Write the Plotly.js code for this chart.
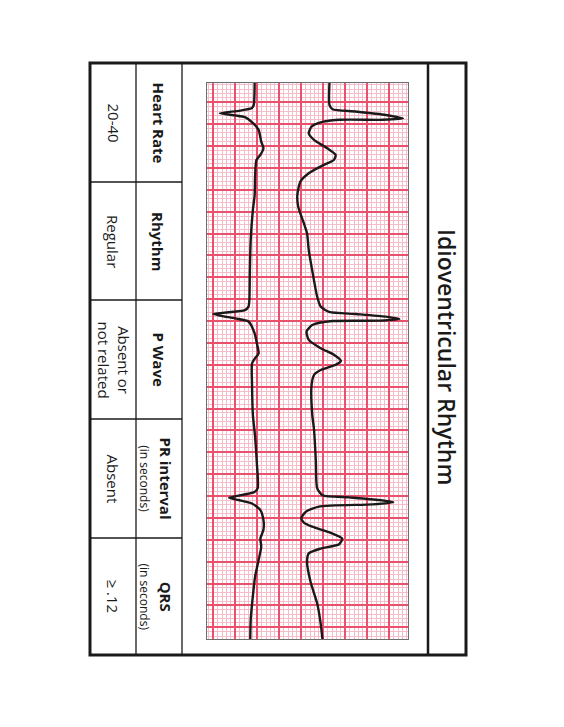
<!DOCTYPE html>
<html>
<head>
<meta charset="utf-8">
<script src="https://cdn.plot.ly/plotly-3.0.1.min.js"></script>
<style>html,body{margin:0;padding:0;background:#fff;}#chart{width:564px;height:727px;}</style>
</head>
<body>
<div id="chart"></div>
<script>
// ---- ECG strip data (mm of paper: amplitude position across strip, time down strip) ----
const leadATime = [-4.4, 0.6, 1.3, 1.9, 2.5, 3.0, 3.4, 4.8, 6.3, 9.0, 10.5, 12.0, 13.2, 17.0, 21.2, 24.6, 31.5, 39.1, 45.2, 46.7, 47.5, 48.4, 49.4, 50.1, 52.8, 55.1, 57.4, 58.5, 59.7, 64.2, 71.5, 76.4, 82.5, 88.2, 89.1, 90.4, 90.9, 91.7, 93.2, 95.5, 97.7, 99.7, 101.6, 104.6, 108.4, 113.8, 118.3, 122.7];
const leadAAmp  = [9.4, 9.2, 8.8, 6.1, 1.5, 5.0, 7.2, 9.1, 10.3, 10.9, 11.4, 10.7, 9.8, 9.5, 9.4, 9.0, 8.5, 8.3, 8.2, 8.0, 7.2, 0.0, 5.0, 8.0, 9.4, 9.9, 10.3, 9.5, 8.8, 8.8, 9.0, 9.5, 9.9, 10.1, 9.3, 3.6, 5.7, 8.8, 10.7, 11.4, 11.4, 10.7, 10.9, 10.3, 9.5, 8.9, 8.5, 8.4];

const leadBTime = [-4.4, 0.6, 1.6, 2.1, 2.9, 3.7, 4.0, 4.0, 4.7, 5.6, 7.1, 8.6, 10.5, 12.0, 13.2, 14.3, 16.2, 18.1, 21.2, 23.9, 27.7, 29.9, 33.8, 39.1, 44.4, 46.7, 47.9, 48.4, 49.0, 49.5, 49.9, 50.0, 50.9, 52.4, 54.3, 56.2, 57.7, 59.1, 60.0, 61.2, 62.3, 65.0, 71.5, 74.9, 81.8, 88.2, 89.8, 90.3, 90.9, 91.4, 91.9, 92.4, 93.6, 95.1, 96.2, 97.0, 98.4, 99.7, 101.0, 102.0, 103.1, 105.0, 109.6, 114.5, 119.1, 122.7];
const leadBAmp  = [26.4, 26.4, 27.1, 32.3, 39.2, 43.1, 38.5, 28.6, 24.0, 22.3, 21.7, 22.9, 25.9, 27.8, 27.4, 25.1, 21.7, 19.8, 19.1, 19.3, 20.6, 21.3, 21.7, 22.6, 23.6, 24.4, 26.3, 32.4, 39.2, 42.3, 37.7, 27.1, 22.5, 21.2, 21.7, 24.4, 27.4, 29.0, 27.8, 24.4, 22.9, 22.3, 22.5, 22.9, 23.3, 23.6, 24.8, 30.9, 37.7, 40.9, 36.2, 24.0, 21.0, 20.0, 20.7, 22.5, 26.7, 29.3, 28.6, 24.4, 21.7, 21.3, 22.1, 23.6, 24.4, 24.8];

// ---- Table text ----
const title = 'Idioventricular Rhythm';
const headers = ['Heart Rate', 'Rhythm', 'P Wave', 'PR interval', 'QRS'];
const subHeaders = ['', '', '', '(in seconds)', '(in seconds)'];
const values = ['20-40', 'Regular', 'Absent or<br>not related', 'Absent', '\u2265 .12'];

// ---- geometry helpers (page pixels -> paper) ----
const W = 564, H = 727;
const px = x => x / W;
const py = y => 1 - y / H;

const FONT = 'Open Sans, Liberation Sans, sans-serif';

const traces = [
  {x: leadAAmp, y: leadATime, type: 'scatter', mode: 'lines',
   line: {color: '#1a1a1a', width: 2.4, shape: 'spline', smoothing: 0.6}, hoverinfo: 'skip'},
  {x: leadBAmp, y: leadBTime, type: 'scatter', mode: 'lines',
   line: {color: '#1a1a1a', width: 2.4, shape: 'spline', smoothing: 0.6}, hoverinfo: 'skip'}
];

const shapes = [];
function line(x0, y0, x1, y1, w, c) {
  shapes.push({type: 'line', xref: 'paper', yref: 'paper', x0: px(x0), y0: py(y0), x1: px(x1), y1: py(y1),
               line: {color: c || '#1a1a1a', width: w}});
}
// outer frame
shapes.push({type: 'rect', xref: 'paper', yref: 'paper', x0: px(90), y0: py(655), x1: px(466), y1: py(63),
             line: {color: '#1a1a1a', width: 3}});
// title band separator
line(428, 63, 428, 655, 2.5);
// table columns
line(136, 63, 136, 655, 1.3);
line(182, 63, 182, 655, 1.3);
// table rows
const rowEdges = [63, 182, 300, 419, 538, 655];
for (let i = 1; i < rowEdges.length - 1; i++) line(90, rowEdges[i], 182, rowEdges[i], 1.3);

const annotations = [];
annotations.push({xref: 'paper', yref: 'paper', x: px(447), y: py(357), text: title, showarrow: false,
  textangle: 90, xanchor: 'center', yanchor: 'middle',
  font: {family: FONT, size: 23, color: '#1a1a1a', weight: 600}});
for (let i = 0; i < headers.length; i++) {
  const cy = (rowEdges[i] + rowEdges[i + 1]) / 2;
  let t = '<b>' + headers[i] + '</b>';
  if (subHeaders[i]) t += '<br><span style="font-size:12px">' + subHeaders[i] + '</span>';
  annotations.push({xref: 'paper', yref: 'paper', x: px(subHeaders[i] ? 156 : 158), y: py(cy), text: t,
    showarrow: false, textangle: 90, xanchor: 'center', yanchor: 'middle',
    font: {family: FONT, size: 15, color: '#1a1a1a'}});
  annotations.push({xref: 'paper', yref: 'paper', x: px(113), y: py(cy), text: values[i],
    showarrow: false, textangle: 90, xanchor: 'center', yanchor: 'middle',
    font: {family: FONT, size: 15, color: '#1a1a1a'}});
}

const gridMinor = {tick0: 0, dtick: 1, showgrid: true, gridcolor: '#f5bdc9', gridwidth: 1};
const layout = {
  width: W, height: H,
  margin: {l: 0, r: 0, t: 0, b: 0},
  paper_bgcolor: '#ffffff', plot_bgcolor: '#ffffff',
  showlegend: false,
  xaxis: {domain: [px(207), px(408)], range: [-1.43, 44.25], autorange: false,
    tick0: 0, dtick: 5, showgrid: true, gridcolor: '#e9516c', gridwidth: 2,
    minor: gridMinor,
    zeroline: false, showticklabels: false, ticks: '', showline: true, mirror: true,
    linecolor: '#6e6e6e', linewidth: 1.2, fixedrange: true},
  yaxis: {domain: [py(639), py(83)], range: [122.67, -4.41], autorange: false,
    tick0: 0, dtick: 5, showgrid: true, gridcolor: '#e9516c', gridwidth: 2,
    minor: gridMinor,
    zeroline: false, showticklabels: false, ticks: '', showline: true, mirror: true,
    linecolor: '#6e6e6e', linewidth: 1.2, fixedrange: true},
  shapes: shapes,
  annotations: annotations
};

Plotly.newPlot('chart', traces, layout, {staticPlot: true, displayModeBar: false});
</script>
</body>
</html>
